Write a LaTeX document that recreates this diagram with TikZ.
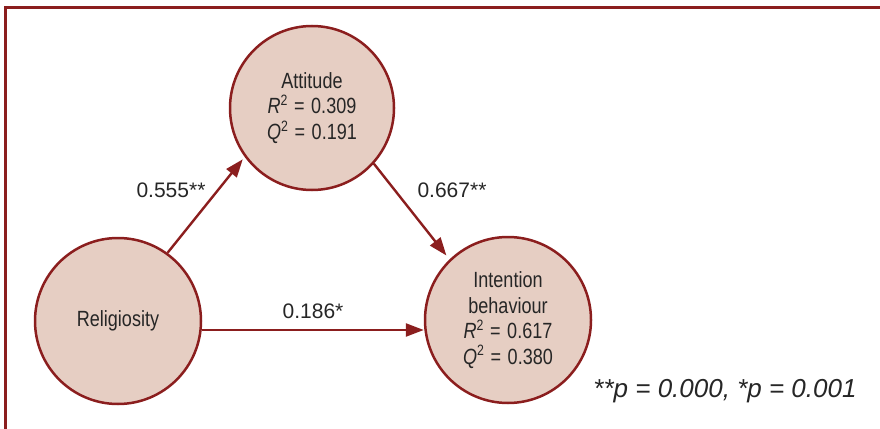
\documentclass[tikz,border=0pt]{standalone}
\usepackage{fontspec}
\setmainfont{Liberation Sans}[FakeStretch=0.82]
\newfontfamily\plainfont{Liberation Sans}
\usetikzlibrary{arrows.meta}
\definecolor{frame}{HTML}{8B1E1E}
\definecolor{cfill}{HTML}{E6CEC3}
\definecolor{txt}{HTML}{262626}
\newcommand{\eqs}{\hspace{0.3em}=\hspace{0.3em}}
\newcommand{\sqr}{\raisebox{0.38em}{\fontsize{15}{15}\selectfont 2}}
\tikzset{
  latent/.style={circle, draw=frame, line width=2.5pt, fill=cfill, minimum size=#1, inner sep=0pt, align=center, text=txt, font=\fontsize{22}{25.5}\selectfont},
  path/.style={draw=frame, line width=2.4pt, -{Triangle[length=18pt,width=13pt]}},
  coef/.style={text=txt, font=\plainfont\fontsize{21}{25}\selectfont, inner sep=0pt}
}
\begin{document}
\begin{tikzpicture}[x=1pt,y=-1pt]
\useasboundingbox (0,0) rectangle (880,428);
\clip (0,0) rectangle (880,428);
\draw[frame, line width=3pt] (5.5,7.5) rectangle (900,450);
\node[latent=164pt] (att) at (312,108) {Attitude\\\textit{R}\sqr\eqs0.309\\\textit{Q}\sqr\eqs0.191};
\node[latent=166pt] (rel) at (118,321) {Religiosity};
\node[latent=166pt] (int) at (508,320) {Intention\\behaviour\\\textit{R}\sqr\eqs0.617\\\textit{Q}\sqr\eqs0.380};
\coordinate (h1) at (200,330);
\draw[path, shorten >=3pt] (rel.54) -- (att.216);
\draw[path, shorten >=5pt] (att.-42) -- (int.134);
\draw[path] (rel.east |- h1) -- (h1 -| int.west);
\node[coef] (c1) at (171,190) {0.555**};
\node[coef] (c2) at (452,190) {0.667**};
\node[coef] (c3) at (313,311) {0.186*};
\node[text=txt, font=\plainfont\fontsize{26}{30}\selectfont\itshape, inner sep=0pt] (note) at (725,391) {**p = 0.000, *p = 0.001};
\end{tikzpicture}
\end{document}
